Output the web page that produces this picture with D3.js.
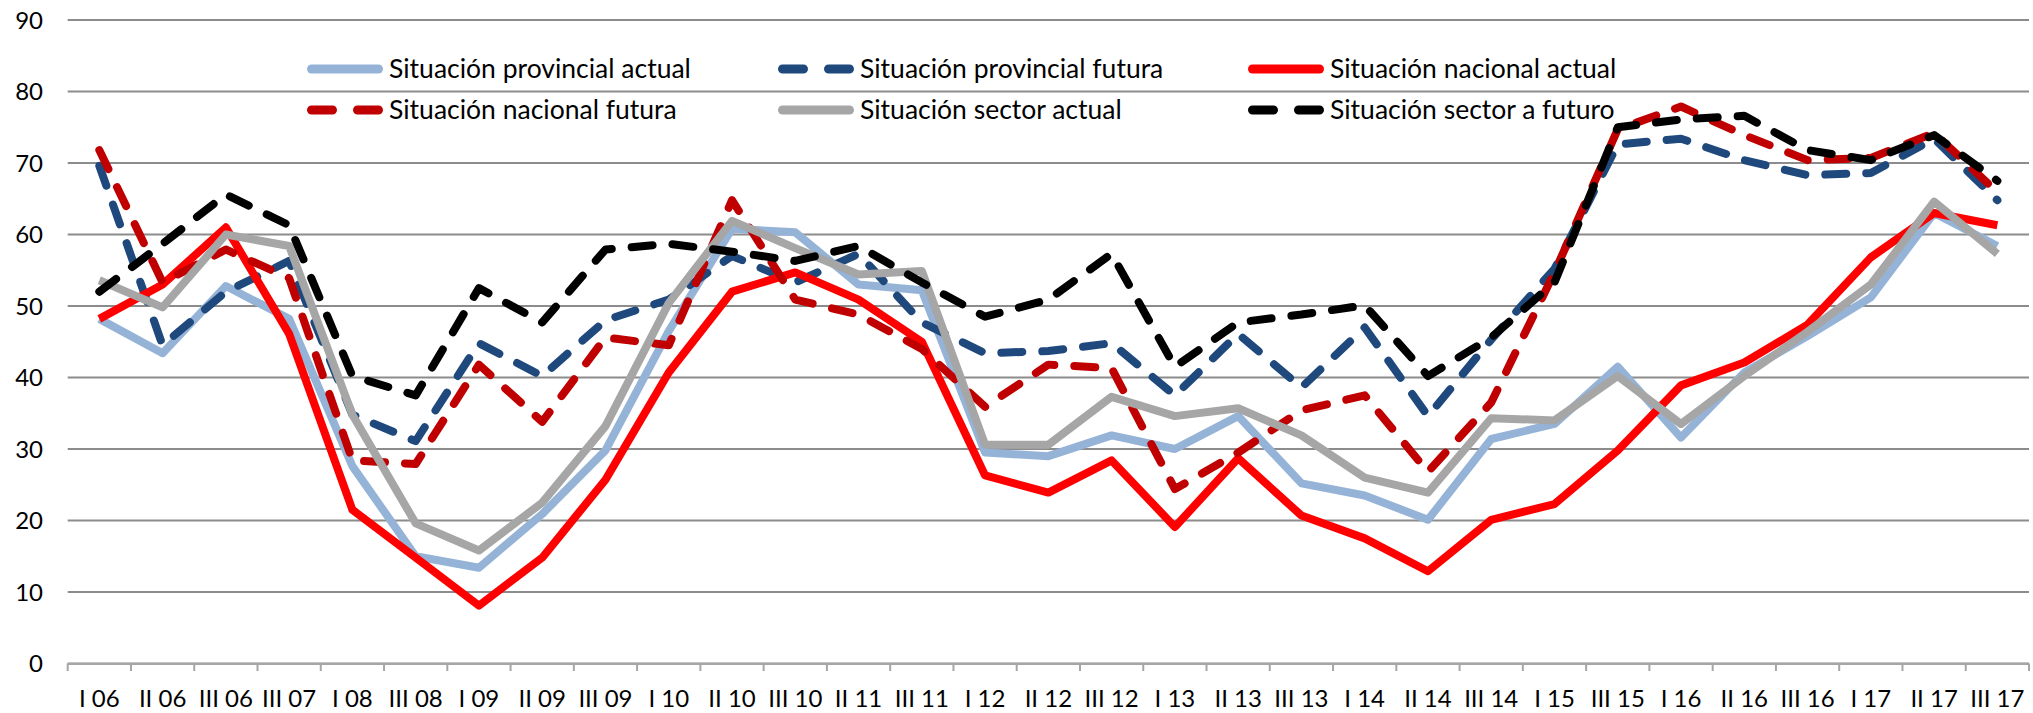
<!DOCTYPE html>
<html>
<head>
<meta charset="utf-8">
<script src="https://d3js.org/d3.v7.min.js"></script>
<style>
    body { margin: 0; background: #fff; }
    svg text { font-family: Lato, "Open Sans", sans-serif; fill: #000; }
</style>
</head>
<body>
<div id="chart"></div>
<script>
// quarters on the x axis
var quarters = ['I 06', 'II 06', 'III 06', 'III 07', 'I 08', 'III 08', 'I 09', 'II 09', 'III 09', 'I 10',
    'II 10', 'III 10', 'II 11', 'III 11', 'I 12', 'II 12', 'III 12', 'I 13', 'II 13', 'III 13',
    'I 14', 'II 14', 'III 14', 'I 15', 'III 15', 'I 16', 'II 16', 'III 16', 'I 17', 'II 17', 'III 17'];

var yTicks = [0, 10, 20, 30, 40, 50, 60, 70, 80, 90];

// series values
var provincialActual = [48.2, 43.4, 52.8, 48.2, 27.6, 15, 13.4, 20.9, 29.8, 46.5,
    60.8, 60.3, 53, 52.2, 29.5, 29, 31.9, 30, 34.6, 25.2,
    23.5, 20.1, 31.4, 33.5, 41.5, 31.6, 40.7, 45.8, 51.2, 63, 58.4];
var provincialFutura = [69.6, 44.5, 52, 56.3, 34.8, 31.1, 44.8, 40.2, 48, 50.9,
    57, 53.3, 57.3, 47.7, 43.4, 43.7, 44.8, 37.5, 46.1, 38.6,
    47, 34.6, 45.3, 55.2, 72.6, 73.4, 70.4, 68.3, 68.6, 73.4, 64.8];
var nacionalActual = [48.2, 53, 61, 46.1, 21.5, 14.8, 8.1, 14.8, 25.7, 40.7,
    52, 54.7, 50.9, 45, 26.3, 23.9, 28.4, 19.1, 28.7, 20.7,
    17.5, 12.9, 20.1, 22.3, 29.8, 38.9, 42.1, 47.4, 56.8, 63, 61.3];
var nacionalFutura = [71.8, 53.3, 57.9, 53.9, 28.4, 27.9, 41.8, 33.8, 45.6, 44.5,
    64.8, 50.9, 48.8, 44, 35.9, 41.8, 41.3, 24.4, 29.5, 35.4,
    37.5, 26.8, 36.5, 54.7, 74.7, 77.9, 73.9, 70.4, 70.7, 74.2, 65.9];
var sectorActual = [53.6, 49.8, 60, 58.4, 34.8, 19.6, 15.8, 22.5, 33.2, 50.4,
    61.9, 58.1, 54.4, 54.9, 30.6, 30.6, 37.3, 34.6, 35.7, 31.9,
    26, 23.9, 34.3, 34, 40.2, 33.5, 40.2, 46.4, 53, 64.6, 57.3];
var sectorFuturo = [52, 58.7, 65.6, 61.3, 40.2, 37.5, 52.5, 47.7, 57.9, 58.7,
    57.6, 56.3, 58.4, 53.3, 48.5, 50.9, 57.3, 41.5, 47.7, 48.8,
    50.1, 40.2, 45.6, 53.3, 75, 76.1, 76.6, 71.8, 70.4, 73.9, 67.5];

var seriesNames = ['Situación provincial actual', 'Situación provincial futura', 'Situación nacional actual',
    'Situación nacional futura', 'Situación sector actual', 'Situación sector a futuro'];

// series styles (drawing order = legend order)
var series = [
    {name: seriesNames[0], values: provincialActual, color: '#95B3D7', dashed: false},
    {name: seriesNames[1], values: provincialFutura, color: '#1F497D', dashed: true},
    {name: seriesNames[2], values: nacionalActual, color: '#FF0000', dashed: false},
    {name: seriesNames[3], values: nacionalFutura, color: '#C00000', dashed: true},
    {name: seriesNames[4], values: sectorActual, color: '#A6A6A6', dashed: false},
    {name: seriesNames[5], values: sectorFuturo, color: '#000000', dashed: true}
];

var width = 2033,
    height = 713;

var plot = {left: 67.7, right: 2029, top: 20, bottom: 663.5};

var svg = d3.select('#chart').append('svg')
    .attr('width', width)
    .attr('height', height);

var x = d3.scaleBand()
    .domain(quarters)
    .range([plot.left, plot.right]);

var y = d3.scaleLinear()
    .domain([0, 90])
    .range([plot.bottom, plot.top]);

// horizontal gridlines
svg.append('g')
    .selectAll('line')
    .data(yTicks)
    .enter().append('line')
        .attr('x1', plot.left)
        .attr('x2', plot.right)
        .attr('y1', function(d){ return y(d); })
        .attr('y2', function(d){ return y(d); })
        .attr('stroke', '#8c8c8c')
        .attr('stroke-width', 2);

// y axis labels
svg.append('g')
    .selectAll('text')
    .data(yTicks)
    .enter().append('text')
        .attr('x', 43)
        .attr('y', function(d){ return y(d) + 8.5; })
        .attr('text-anchor', 'end')
        .style('font-size', '24px')
        .text(function(d){ return d; });

// x axis: labels centred in each category
var xAxis = d3.axisBottom(x)
    .tickSize(0)
    .tickPadding(0);

var gx = svg.append('g')
    .attr('transform', 'translate(0,' + plot.bottom + ')')
    .call(xAxis);

gx.select('.domain').remove();
gx.selectAll('text')
    .attr('y', 43)
    .attr('dy', null)
    .style('font-family', 'Lato, "Open Sans", sans-serif')
    .style('font-size', '24px')
    .attr('fill', '#000');

svg.append('line')
    .attr('x1', plot.left)
    .attr('x2', plot.right)
    .attr('y1', plot.bottom + 0.5)
    .attr('y2', plot.bottom + 0.5)
    .attr('stroke', '#a6a6a6')
    .attr('stroke-width', 2);

// tick marks between categories
var boundaries = quarters.map(function(q){ return x(q); }).concat([plot.right]);
svg.append('g')
    .selectAll('line')
    .data(boundaries)
    .enter().append('line')
        .attr('x1', function(d){ return d; })
        .attr('x2', function(d){ return d; })
        .attr('y1', plot.bottom)
        .attr('y2', plot.bottom + 7.5)
        .attr('stroke', '#a6a6a6')
        .attr('stroke-width', 2);

// lines
var line = d3.line()
    .x(function(d, i){ return x(quarters[i]) + x.bandwidth() / 2; })
    .y(function(d){ return y(d); });

svg.append('g')
    .selectAll('path')
    .data(series)
    .enter().append('path')
        .attr('d', function(d){ return line(d.values); })
        .attr('fill', 'none')
        .attr('stroke', function(d){ return d.color; })
        .attr('stroke-width', 8)
        .attr('stroke-linejoin', 'round')
        .attr('stroke-linecap', function(d){ return d.dashed ? 'round' : 'butt'; })
        .attr('stroke-dasharray', function(d){ return d.dashed ? '21 20' : null; });

// legend, 3 columns x 2 rows
var legendCols = [307, 778, 1248],
    legendRows = [69, 110];

var legend = svg.append('g')
    .selectAll('g')
    .data(series)
    .enter().append('g')
        .attr('transform', function(d, i){
            return 'translate(' + legendCols[i % 3] + ',' + legendRows[Math.floor(i / 3)] + ')';
        });

legend.append('line')
    .attr('x1', 4.5)
    .attr('x2', 71.5)
    .attr('y1', 0)
    .attr('y2', 0)
    .attr('stroke', function(d){ return d.color; })
    .attr('stroke-width', 9)
    .attr('stroke-linecap', 'round')
    .attr('stroke-dasharray', function(d){ return d.dashed ? '21 25' : null; });

legend.append('text')
    .attr('x', 82)
    .attr('y', 8.5)
    .style('font-size', '26.5px')
    .text(function(d){ return d.name; });
</script>
</body>
</html>
